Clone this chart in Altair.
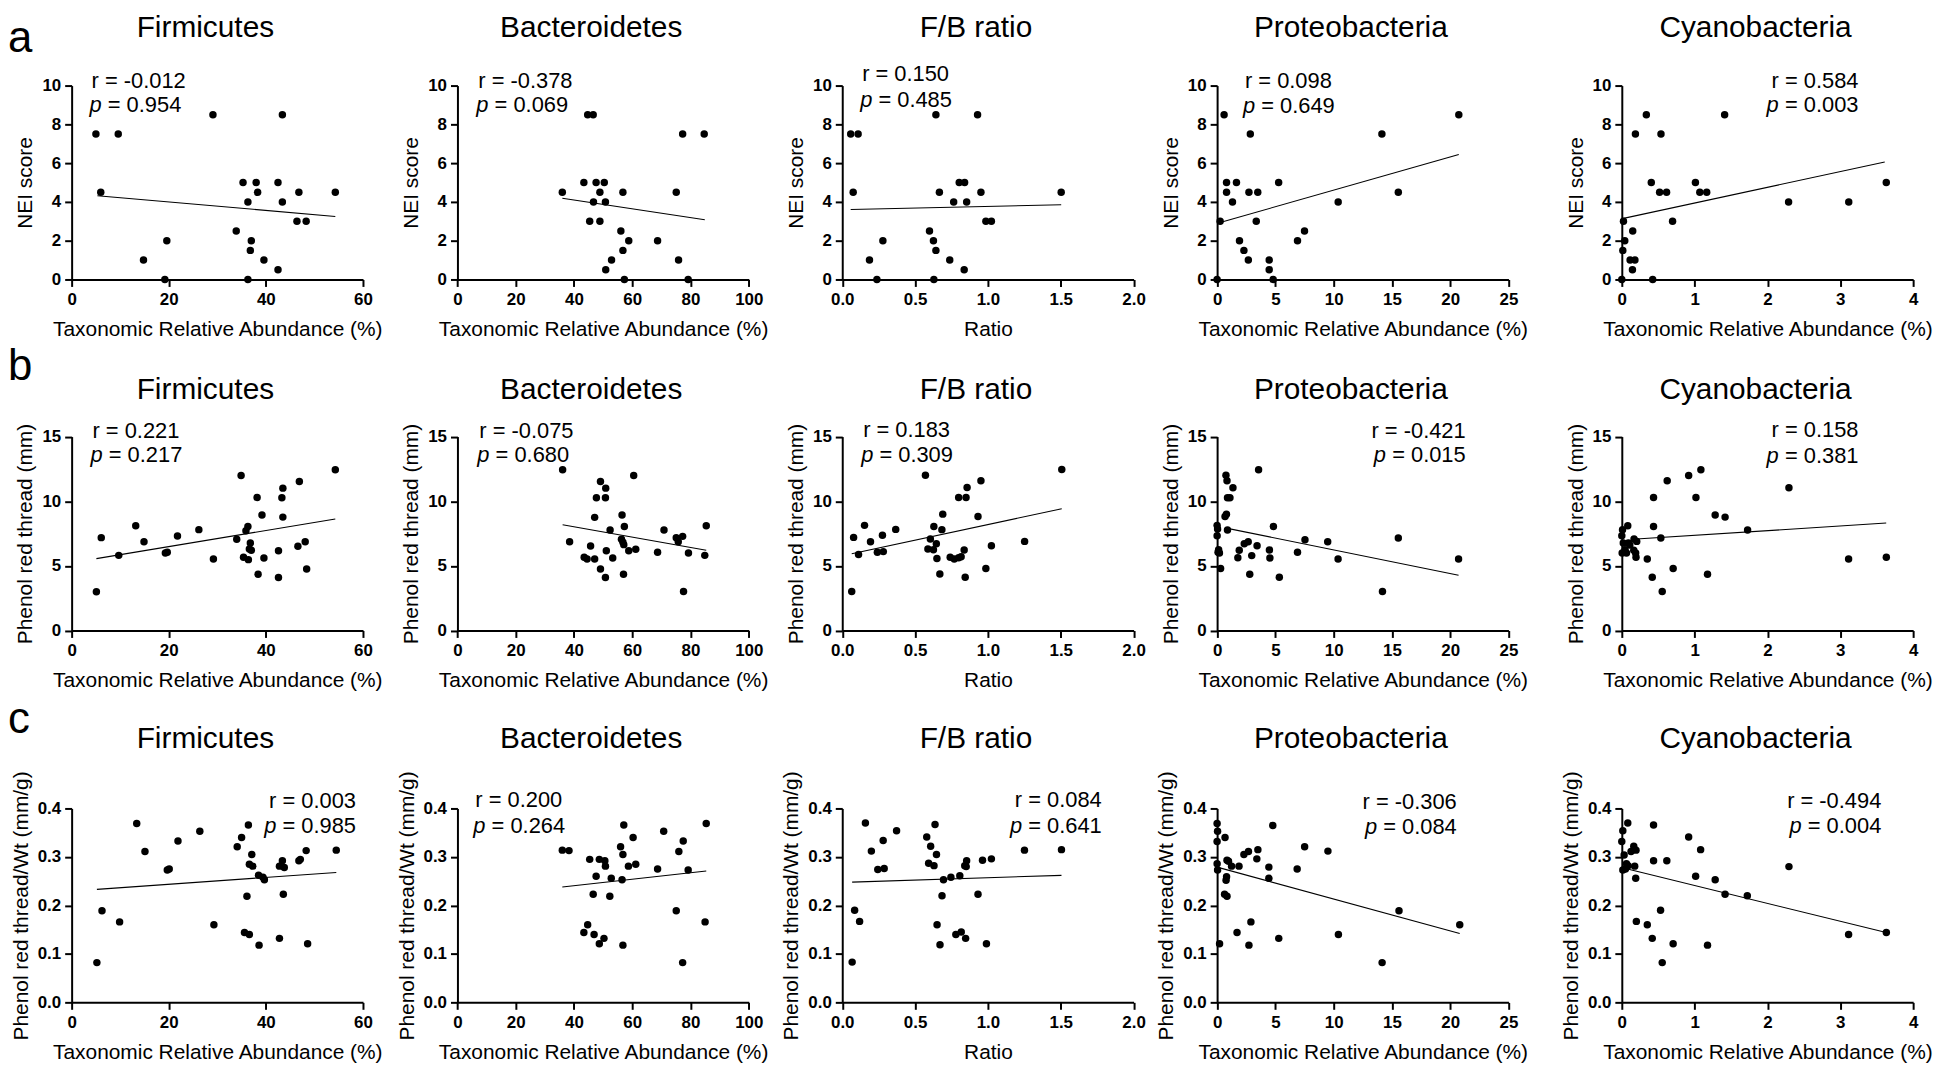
import altair as alt
import pandas as pd

FONT = "Liberation Sans"

# ---------------- tick labels / titles ----------------
X_TICKS_FIRM = [0, 20, 40, 60]
X_TICKS_BACT = [0, 20, 40, 60, 80, 100]
X_TICKS_FB = [0.0, 0.5, 1.0, 1.5, 2.0]
X_TICKS_PROT = [0, 5, 10, 15, 20, 25]
X_TICKS_CYAN = [0, 1, 2, 3, 4]
Y_TICKS_A = [0, 2, 4, 6, 8, 10]
Y_TICKS_B = [0, 5, 10, 15]
Y_TICKS_C = [0.0, 0.1, 0.2, 0.3, 0.4]

PANEL_TITLES = ["Firmicutes", "Bacteroidetes", "F/B ratio", "Proteobacteria", "Cyanobacteria"]
X_TITLES = ["Taxonomic Relative Abundance (%)", "Taxonomic Relative Abundance (%)", "Ratio",
            "Taxonomic Relative Abundance (%)", "Taxonomic Relative Abundance (%)"]
ROW_LETTERS = ["a", "b", "c"]
ROW_YTITLES = ["NEI score", "Phenol red thread (mm)", "Phenol red thread/Wt (mm/g)"]

# ---------------- row a : NEI score ----------------
A_FIRM_X = [5.0, 6.0, 9.6, 14.8, 19.2, 19.6, 29.1, 33.9, 35.3, 36.3, 36.3, 37.0, 36.8, 38.0, 38.3, 39.6, 42.5, 42.5, 43.4, 43.4, 46.4, 46.8, 48.3, 54.3]
A_FIRM_Y = [7.5, 4.5, 7.5, 1.0, 0.0, 2.0, 8.5, 2.5, 5.0, 0.0, 4.0, 2.0, 1.5, 5.0, 4.5, 1.0, 5.0, 0.5, 8.5, 4.0, 3.0, 4.5, 3.0, 4.5]
A_BACT_X = [36.0, 43.4, 44.7, 46.6, 45.4, 46.7, 47.6, 48.9, 48.9, 50.4, 50.8, 50.9, 52.9, 56.1, 56.8, 56.8, 57.3, 58.8, 68.7, 75.1, 75.9, 77.3, 79.2, 84.7]
A_BACT_Y = [4.5, 5.0, 8.5, 8.5, 3.0, 4.0, 5.0, 4.5, 3.0, 5.0, 4.0, 0.5, 1.0, 2.5, 4.5, 1.5, 0.0, 2.0, 2.0, 4.5, 1.0, 7.5, 0.0, 7.5]
A_FB_X = [0.058, 0.109, 0.075, 0.187, 0.238, 0.279, 0.599, 0.626, 0.629, 0.643, 0.643, 0.667, 0.738, 0.765, 0.803, 0.837, 0.840, 0.854, 0.929, 0.952, 0.986, 1.024, 1.503]
A_FB_Y = [7.5, 7.5, 4.5, 1.0, 0.0, 2.0, 2.5, 2.0, 0.0, 8.5, 1.5, 4.5, 1.0, 4.0, 5.0, 0.5, 5.0, 4.0, 8.5, 4.5, 3.0, 3.0, 4.5]
A_PROT_X = [0.0, 0.26, 0.6, 0.81, 0.81, 1.32, 1.66, 1.92, 2.3, 2.68, 2.73, 2.85, 3.36, 3.49, 4.47, 4.47, 4.81, 5.28, 6.9, 7.5, 10.39, 14.14, 15.55, 20.74]
A_PROT_Y = [0.0, 3.0, 8.5, 5.0, 4.5, 4.0, 5.0, 2.0, 1.5, 1.0, 4.5, 7.5, 3.0, 4.5, 1.0, 0.5, 0.0, 5.0, 2.0, 2.5, 4.0, 7.5, 4.5, 8.5]
A_CYAN_X = [0.0, 0.014, 0.023, 0.041, 0.114, 0.15, 0.146, 0.18, 0.187, 0.337, 0.405, 0.424, 0.519, 0.538, 0.615, 0.697, 1.011, 1.071, 1.166, 1.412, 2.29, 3.116, 3.631]
A_CYAN_Y = [0.0, 1.5, 3.0, 2.0, 1.0, 2.5, 0.5, 1.0, 7.5, 8.5, 5.0, 0.0, 4.5, 7.5, 4.5, 3.0, 5.0, 4.5, 4.5, 8.5, 4.0, 4.0, 5.0]
A_FITS = [[5.3, 4.32, 54.3, 3.25], [36.0, 4.19, 84.9, 3.08], [0.058, 3.61, 1.503, 3.85],
          [0.26, 2.94, 20.74, 6.44], [0.023, 3.15, 3.61, 6.06]]
A_R = ["-0.012", "-0.378", "0.150", "0.098", "0.584"]
A_P = ["0.954", "0.069", "0.485", "0.649", "0.003"]

# ---------------- row b : phenol red thread ----------------
B_FIRM_X = [5.1, 6.1, 9.7, 13.2, 14.9, 19.3, 19.7, 21.8, 26.2, 29.2, 34.0, 34.9, 35.4, 35.9, 36.3, 36.4, 36.8, 36.6, 37.0, 38.2, 38.4, 39.2, 39.6, 42.6, 42.6, 43.3, 43.5, 43.5, 46.6, 46.9, 48.1, 48.4, 54.3]
B_FIRM_Y = [3.0, 7.18, 5.81, 8.1, 6.87, 5.99, 6.05, 7.31, 7.8, 5.53, 7.05, 11.99, 5.66, 7.72, 8.05, 5.48, 6.77, 6.3, 6.2, 10.29, 4.35, 8.93, 5.61, 6.17, 4.09, 10.26, 11.01, 8.77, 6.51, 11.53, 6.87, 4.76, 12.43]
B_BACT_X = [36.1, 38.5, 43.5, 44.5, 45.7, 47.1, 47.1, 47.7, 49.1, 49.1, 50.8, 50.9, 50.8, 51.1, 52.4, 53.3, 56.3, 56.5, 56.8, 57.0, 57.3, 57.1, 58.8, 60.5, 61.2, 68.7, 70.9, 75.1, 75.8, 77.3, 77.6, 79.3, 84.9, 85.4]
B_BACT_Y = [12.43, 6.87, 5.66, 5.53, 6.53, 8.75, 5.53, 10.26, 11.53, 4.76, 10.26, 11.01, 4.09, 6.17, 7.77, 5.61, 7.05, 8.93, 6.82, 4.35, 8.05, 6.64, 6.17, 11.99, 6.28, 6.05, 7.77, 7.18, 6.87, 7.28, 3.01, 5.99, 5.81, 8.1]
B_FB_X = [0.065, 0.078, 0.112, 0.153, 0.194, 0.241, 0.276, 0.282, 0.367, 0.571, 0.588, 0.605, 0.629, 0.626, 0.646, 0.65, 0.67, 0.684, 0.69, 0.741, 0.769, 0.799, 0.799, 0.816, 0.837, 0.844, 0.85, 0.857, 0.932, 0.952, 0.986, 1.024, 1.252, 1.507]
B_FB_Y = [3.01, 7.2, 5.87, 8.13, 6.87, 6.05, 7.36, 6.1, 7.82, 12.01, 6.3, 7.07, 8.05, 6.25, 6.71, 5.56, 4.37, 7.8, 9.0, 5.66, 5.53, 10.29, 5.63, 5.71, 6.23, 4.12, 10.29, 11.06, 8.82, 11.58, 4.79, 6.56, 6.89, 12.45]
B_PROT_X = [0.0, 0.0, 0.04, 0.08, 0.13, 0.2, 0.3, 0.68, 0.76, 0.8, 0.85, 0.89, 0.89, 1.1, 1.36, 1.78, 1.9, 2.33, 2.67, 2.8, 2.97, 3.43, 3.56, 4.49, 4.53, 4.83, 5.34, 6.9, 7.54, 9.49, 10.38, 14.19, 15.55, 20.72]
B_PROT_Y = [8.13, 7.33, 7.85, 6.05, 6.25, 5.99, 4.79, 8.82, 12.01, 9.0, 11.58, 7.77, 10.26, 10.26, 11.04, 5.63, 6.2, 6.71, 6.87, 4.35, 5.79, 6.56, 12.43, 6.23, 5.61, 8.05, 4.12, 6.05, 7.02, 6.87, 5.53, 3.01, 7.15, 5.53]
B_CYAN_X = [0.0, 0.005, 0.01, 0.02, 0.045, 0.064, 0.082, 0.09, 0.11, 0.168, 0.164, 0.19, 0.205, 0.195, 0.35, 0.418, 0.436, 0.436, 0.536, 0.555, 0.623, 0.705, 0.918, 1.018, 1.086, 1.177, 1.282, 1.418, 1.727, 2.295, 3.114, 3.632]
B_CYAN_Y = [7.33, 5.99, 7.8, 6.77, 6.25, 5.99, 8.1, 6.77, 6.61, 7.07, 6.2, 5.99, 6.89, 5.66, 5.53, 4.12, 10.29, 8.05, 7.15, 3.01, 11.58, 4.79, 11.99, 10.29, 12.43, 4.35, 8.93, 8.77, 7.77, 11.04, 5.53, 5.66]
B_FITS = [[5.1, 5.56, 54.3, 8.62], [36.1, 8.18, 85.4, 6.2], [0.065, 5.94, 1.507, 9.42],
          [0.89, 7.9, 20.72, 4.27], [0.2, 7.07, 3.63, 8.31]]
B_R = ["0.221", "-0.075", "0.183", "-0.421", "0.158"]
B_P = ["0.217", "0.680", "0.309", "0.015", "0.381"]

# ---------------- row c : phenol red thread / weight ----------------
C_FIRM_X = [5.2, 6.25, 9.88, 13.4, 15.1, 19.7, 20.1, 21.9, 26.4, 29.3, 34.1, 35.0, 35.6, 36.1, 36.4, 36.6, 36.6, 37.1, 37.3, 38.5, 38.6, 39.4, 39.7, 42.8, 42.8, 43.4, 43.6, 43.8, 46.8, 47.1, 48.3, 48.6, 54.5]
C_FIRM_Y = [0.082, 0.189, 0.166, 0.369, 0.311, 0.273, 0.275, 0.333, 0.353, 0.160, 0.321, 0.340, 0.144, 0.219, 0.366, 0.140, 0.285, 0.305, 0.281, 0.262, 0.118, 0.258, 0.253, 0.132, 0.281, 0.292, 0.223, 0.278, 0.292, 0.295, 0.313, 0.121, 0.314]
C_BACT_X = [36.0, 38.3, 43.4, 44.7, 45.4, 46.6, 46.9, 47.6, 48.7, 48.7, 50.3, 50.6, 50.8, 52.8, 52.3, 56.0, 56.5, 56.8, 57.1, 56.8, 58.7, 60.3, 61.2, 68.7, 70.8, 75.1, 76.0, 77.5, 77.3, 79.2, 85.0, 85.4]
C_BACT_Y = [0.314, 0.313, 0.144, 0.160, 0.295, 0.223, 0.140, 0.260, 0.295, 0.121, 0.132, 0.292, 0.281, 0.256, 0.219, 0.321, 0.253, 0.305, 0.366, 0.118, 0.281, 0.340, 0.285, 0.275, 0.353, 0.189, 0.311, 0.333, 0.082, 0.273, 0.166, 0.369]
C_FB_X = [0.068, 0.085, 0.119, 0.159, 0.2, 0.244, 0.288, 0.281, 0.373, 0.58, 0.593, 0.607, 0.63, 0.637, 0.647, 0.651, 0.671, 0.685, 0.695, 0.746, 0.78, 0.807, 0.817, 0.841, 0.847, 0.854, 0.851, 0.932, 0.963, 0.99, 1.024, 1.251, 1.505]
C_FB_Y = [0.083, 0.190, 0.167, 0.370, 0.312, 0.274, 0.276, 0.334, 0.354, 0.341, 0.287, 0.322, 0.282, 0.367, 0.305, 0.160, 0.119, 0.220, 0.253, 0.258, 0.140, 0.261, 0.145, 0.282, 0.132, 0.292, 0.280, 0.223, 0.293, 0.121, 0.296, 0.314, 0.315]
C_PROT_X = [0.0, 0.04, 0.0, 0.0, 0.04, 0.21, 0.68, 0.77, 0.81, 0.64, 0.85, 0.85, 0.98, 1.24, 1.71, 1.88, 2.3, 2.69, 2.73, 2.9, 3.41, 3.5, 4.44, 4.44, 4.78, 5.29, 6.87, 7.51, 9.51, 10.41, 14.16, 15.61, 20.82]
C_PROT_Y = [0.369, 0.353, 0.332, 0.286, 0.273, 0.121, 0.340, 0.252, 0.259, 0.223, 0.219, 0.293, 0.291, 0.281, 0.144, 0.281, 0.305, 0.311, 0.118, 0.166, 0.296, 0.315, 0.279, 0.256, 0.365, 0.132, 0.275, 0.321, 0.312, 0.140, 0.082, 0.189, 0.160]
C_CYAN_X = [0.0, 0.014, 0.014, 0.032, 0.05, 0.064, 0.082, 0.086, 0.127, 0.164, 0.177, 0.191, 0.195, 0.2, 0.35, 0.418, 0.436, 0.436, 0.532, 0.555, 0.618, 0.705, 0.918, 1.014, 1.082, 1.177, 1.282, 1.418, 1.723, 2.295, 3.114, 3.632]
C_CYAN_Y = [0.332, 0.354, 0.273, 0.304, 0.275, 0.286, 0.370, 0.282, 0.311, 0.322, 0.281, 0.256, 0.314, 0.167, 0.160, 0.132, 0.366, 0.292, 0.190, 0.082, 0.292, 0.121, 0.341, 0.260, 0.315, 0.118, 0.253, 0.223, 0.220, 0.280, 0.140, 0.144]
C_FITS = [[5.2, 0.233, 54.5, 0.268], [36.0, 0.238, 85.4, 0.271], [0.068, 0.248, 1.505, 0.262],
          [0.0, 0.279, 20.82, 0.142], [0.023, 0.277, 3.63, 0.144]]
C_R = ["0.003", "0.200", "0.084", "-0.306", "-0.494"]
C_P = ["0.985", "0.264", "0.641", "0.084", "0.004"]

# ---------------- layout (pixels) ----------------
W, H = 293, 195
COL_DX = [0, -1.75, -4.5, -17.25, 0]
ROW_DY = [0, -10.5, 0]
TITLE_BASE = [-49, -38, -61]
LETTER_BASE = [-34, -57, -76]
ANN_FS = 22
# (x, align, y of r line, y of p line) relative to plot's top-left corner
ANN = [
    [(20, "left", -5, 20), (21, "left", -5, 20), (20, "left", -12, 15), (28, "left", -5, 21), (238, "right", -5, 20)],
    [(21, "left", -6, 19), (22, "left", -6, 19), (21, "left", -7, 19), (250, "right", -6, 19), (238, "right", -7, 20)],
    [(286, "right", -7, 18), (18, "left", -8, 18), (261, "right", -8, 18), (241, "right", -6, 19), (261, "right", -7, 18)],
]

AW = {" ": 0.278, "=": 0.584, ".": 0.278, "-": 0.333, "p": 0.556, "r": 0.333}


def tw(s, fs):
    return sum(AW.get(c, 0.556) for c in s) * fs


def txt(s, x, y, **kw):
    return alt.Chart(pd.DataFrame({"t": [s]})).mark_text(font=FONT, color="black", **kw).encode(
        x=alt.value(x), y=alt.value(y), text="t:N")


def panel(xs, ys, fit, r, p, title, xticks, xfmt, xtitle, yticks, yfmt, ytitle, dx, dy, ann,
          title_base, letter=None, letter_base=None):
    xscale = alt.Scale(domain=[xticks[0], xticks[-1]], range=[dx, dx + W], nice=False, zero=False)
    yscale = alt.Scale(domain=[yticks[0], yticks[-1]], range=[dy + H, dy], nice=False, zero=False)
    xaxis = alt.Axis(title=xtitle, values=xticks, format=xfmt, offset=dy, labelPadding=5, titlePadding=11)
    yaxis = alt.Axis(title=ytitle, values=yticks, format=yfmt, offset=-dx, labelPadding=4, titlePadding=6)
    X = alt.X("x:Q", scale=xscale, axis=xaxis)
    Y = alt.Y("y:Q", scale=yscale, axis=yaxis)
    pts = alt.Chart(pd.DataFrame({"x": xs, "y": ys})).mark_circle(
        size=56, color="black", opacity=1).encode(x=X, y=Y)
    fdf = pd.DataFrame({"x": [fit[0], fit[2]], "y": [fit[1], fit[3]]})
    line = alt.Chart(fdf).mark_line(color="black", strokeWidth=1.1).encode(x=X, y=Y)
    layers = [pts, line]
    layers.append(txt(title, dx + W / 2 - 12, dy + title_base, fontSize=30, align="center",
                      baseline="alphabetic"))
    ax, align, ry, py = ann
    rs = "r = " + r
    rest = "= " + p
    gap = tw("p ", ANN_FS)
    if align == "left":
        layers.append(txt(rs, dx + ax, dy + ry, fontSize=ANN_FS, align="left", baseline="middle"))
        layers.append(txt("p", dx + ax - 2, dy + py, fontSize=ANN_FS, align="left", baseline="middle",
                          fontStyle="italic"))
        layers.append(txt(rest, dx + ax - 2 + gap, dy + py, fontSize=ANN_FS, align="left",
                          baseline="middle"))
    else:
        layers.append(txt(rs, dx + ax, dy + ry, fontSize=ANN_FS, align="right", baseline="middle"))
        layers.append(txt(rest, dx + ax, dy + py, fontSize=ANN_FS, align="right", baseline="middle"))
        layers.append(txt("p", dx + ax - tw(rest, ANN_FS) - gap, dy + py, fontSize=ANN_FS, align="left",
                          baseline="middle", fontStyle="italic"))
    if letter is not None:
        layers.append(txt(letter, -64, dy + letter_base, fontSize=44, align="left", baseline="alphabetic"))
    return alt.layer(*layers).properties(width=W, height=H)


ROWS = [
    ([(A_FIRM_X, A_FIRM_Y), (A_BACT_X, A_BACT_Y), (A_FB_X, A_FB_Y), (A_PROT_X, A_PROT_Y), (A_CYAN_X, A_CYAN_Y)],
     A_FITS, A_R, A_P, Y_TICKS_A, "d"),
    ([(B_FIRM_X, B_FIRM_Y), (B_BACT_X, B_BACT_Y), (B_FB_X, B_FB_Y), (B_PROT_X, B_PROT_Y), (B_CYAN_X, B_CYAN_Y)],
     B_FITS, B_R, B_P, Y_TICKS_B, "d"),
    ([(C_FIRM_X, C_FIRM_Y), (C_BACT_X, C_BACT_Y), (C_FB_X, C_FB_Y), (C_PROT_X, C_PROT_Y), (C_CYAN_X, C_CYAN_Y)],
     C_FITS, C_R, C_P, Y_TICKS_C, ".1f"),
]
XTICKS = [X_TICKS_FIRM, X_TICKS_BACT, X_TICKS_FB, X_TICKS_PROT, X_TICKS_CYAN]
XFMT = ["d", "d", ".1f", "d", "d"]

row_charts = []
for ri, (series, fits, rs, ps, yticks, yfmt) in enumerate(ROWS):
    panels = []
    for ci in range(5):
        xs, ys = series[ci]
        panels.append(panel(
            xs, ys, fits[ci], rs[ci], ps[ci], PANEL_TITLES[ci], XTICKS[ci], XFMT[ci], X_TITLES[ci],
            yticks, yfmt, ROW_YTITLES[ri], COL_DX[ci], ROW_DY[ri], ANN[ri][ci], TITLE_BASE[ri],
            letter=ROW_LETTERS[ri] if ci == 0 else None, letter_base=LETTER_BASE[ri]))
    row_charts.append(alt.hconcat(*panels, spacing=96.75, bounds="flush"))

# nested flush groups count as zero height, so the spacing is the full row pitch
chart = alt.vconcat(*row_charts, spacing=363.5, bounds="flush").properties(
    padding={"left": 0, "top": 2, "right": 5, "bottom": 0}
).configure_view(stroke=None).configure_axis(
    grid=False, domainColor="black", domainWidth=2, tickColor="black", tickWidth=2, tickSize=7,
    labelFont=FONT, labelFontSize=17, labelFontWeight="bold", labelColor="black",
    labelFlush=False, labelOverlap=False,
    titleFont=FONT, titleFontSize=21, titleFontWeight="normal", titleColor="black",
)

chart.save("out.html", embed_options={"renderer": "svg", "actions": False})
